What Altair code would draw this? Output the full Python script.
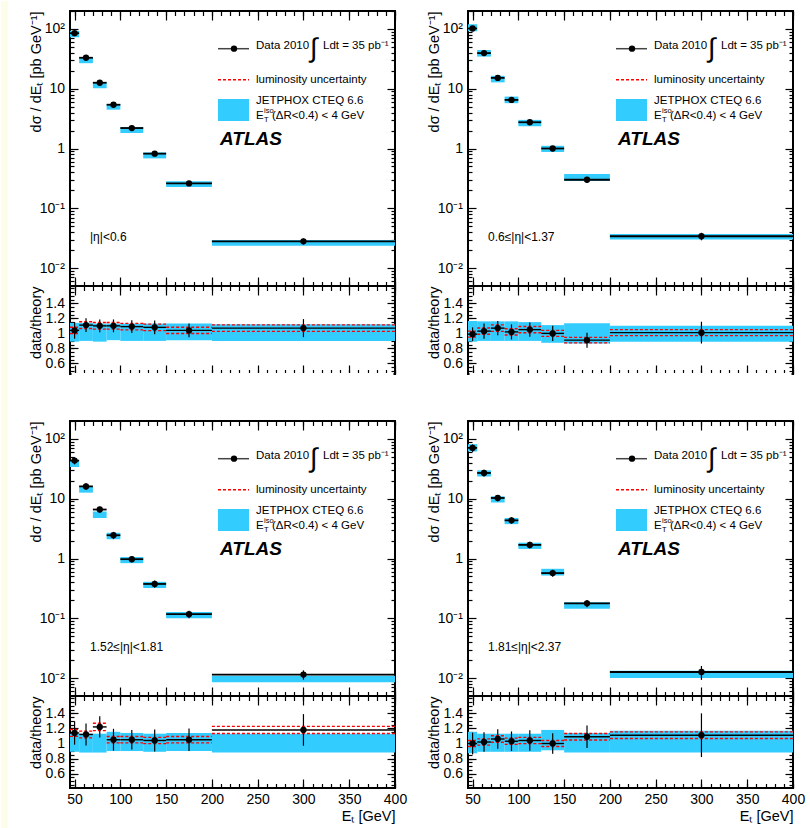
import altair as alt
import pandas as pd

# ---------------- data ----------------
BIN_LO = [45, 55, 70, 85, 100, 125, 150, 200]
BIN_HI = [55, 70, 85, 100, 125, 150, 200, 400]
BIN_CENTER = [50, 62.5, 77.5, 92.5, 112.5, 137.5, 175, 300]

REGION_LABELS = ["|η|<0.6", "0.6≤|η|<1.37", "1.52≤|η|<1.81", "1.81≤|η|<2.37"]

XSEC_ETA0 = [85, 33, 12.6, 5.4, 2.2, 0.82, 0.26, 0.028]
XSEC_ETA1 = [102, 39.5, 15.2, 6.5, 2.75, 1.0, 0.30, 0.034]
XSEC_ETA2 = [43.5, 16.1, 6.6, 2.45, 0.975, 0.375, 0.117, 0.0114]
XSEC_ETA3 = [71, 27, 10.3, 4.35, 1.69, 0.57, 0.178, 0.0126]

RATIO_ETA0 = [1.04, 1.11, 1.10, 1.10, 1.09, 1.08, 1.04, 1.07]
RATIO_ETA1 = [0.99, 1.03, 1.07, 1.02, 1.05, 1.00, 0.91, 1.01]
RATIO_ETA2 = [1.14, 1.12, 1.22, 1.05, 1.05, 1.04, 1.05, 1.18]
RATIO_ETA3 = [1.00, 1.02, 1.06, 1.03, 1.04, 1.00, 1.09, 1.11]

RATIO_ERR_ETA0 = [0.11, 0.09, 0.085, 0.085, 0.085, 0.09, 0.09, 0.12]
RATIO_ERR_ETA1 = [0.09, 0.10, 0.095, 0.10, 0.095, 0.10, 0.10, 0.145]
RATIO_ERR_ETA2 = [0.155, 0.145, 0.14, 0.145, 0.13, 0.145, 0.15, 0.21]
RATIO_ERR_ETA3 = [0.145, 0.13, 0.13, 0.13, 0.135, 0.135, 0.15, 0.29]

THEORY_LO_ETA0 = [0.89, 0.90, 0.89, 0.91, 0.90, 0.90, 0.91, 0.90]
THEORY_HI_ETA0 = [1.14, 1.14, 1.13, 1.13, 1.13, 1.13, 1.13, 1.12]
THEORY_LO_ETA1 = [0.89, 0.90, 0.90, 0.90, 0.90, 0.875, 0.865, 0.89]
THEORY_HI_ETA1 = [1.165, 1.16, 1.16, 1.16, 1.15, 1.11, 1.135, 1.10]
THEORY_LO_ETA2 = [0.89, 0.88, 0.88, 0.90, 0.90, 0.89, 0.90, 0.88]
THEORY_HI_ETA2 = [1.13, 1.13, 1.13, 1.155, 1.14, 1.13, 1.14, 1.13]
THEORY_LO_ETA3 = [0.87, 0.89, 0.89, 0.89, 0.89, 0.91, 0.88, 0.88]
THEORY_HI_ETA3 = [1.155, 1.13, 1.13, 1.13, 1.13, 1.18, 1.14, 1.17]

LUMI_UNC = 0.04

XSECS = [XSEC_ETA0, XSEC_ETA1, XSEC_ETA2, XSEC_ETA3]
RATIOS = [RATIO_ETA0, RATIO_ETA1, RATIO_ETA2, RATIO_ETA3]
RATIO_ERRS = [RATIO_ERR_ETA0, RATIO_ERR_ETA1, RATIO_ERR_ETA2, RATIO_ERR_ETA3]
TH_LOS = [THEORY_LO_ETA0, THEORY_LO_ETA1, THEORY_LO_ETA2, THEORY_LO_ETA3]
TH_HIS = [THEORY_HI_ETA0, THEORY_HI_ETA1, THEORY_HI_ETA2, THEORY_HI_ETA3]

# tick values
X_MAJOR = [50, 100, 150, 200, 250, 300, 350, 400]
X_MINOR = [50, 60, 70, 80, 90, 100, 110, 120, 130, 140, 150, 160, 170, 180, 190, 200,
           210, 220, 230, 240, 250, 260, 270, 280, 290, 300, 310, 320, 330, 340, 350,
           360, 370, 380, 390, 400]
Y_MAJOR = [0.01, 0.1, 1, 10, 100]
Y_MINOR = [m * d for d in [0.001, 0.01, 0.1, 1, 10, 100] for m in range(2, 10)]
R_MAJOR = [0.6, 0.8, 1.0, 1.2, 1.4]
R_MINOR = [round(0.4 + 0.05 * i, 2) for i in range(26)]

# ---------------- style ----------------
FONT = "Liberation Sans"
BLUE = "#33ccff"
STRIP = "#fdfde8"
W = 325
H_MAIN = 275
LOG_LABELS = ("datum.value == 100 ? '10²' : datum.value == 10 ? '10' : datum.value == 1 ? '1' : "
              "datum.value == 0.1 ? '10⁻¹' : '10⁻²'")
R_LABELS = "datum.value == 1 ? '1' : format(datum.value, '.1f')"
LUMI_STYLE = dict(color="red", strokeDash=[3, 2], strokeWidth=1.4)

ONE = pd.DataFrame({"_": [0]})


def ax(orient, values, size, labels=False, title=None, extent=0, **kw):
    d = dict(orient=orient, values=values, tickSize=size, offset=-size, domain=False,
             grid=False, labels=labels, ticks=True, tickColor="black", tickWidth=1.2,
             minExtent=extent, maxExtent=extent, title=title)
    d.update(kw)
    return alt.Axis(**d)


def txt(text, x, y, size=11.5, align="left", baseline="middle", **kw):
    return alt.Chart(ONE).mark_text(text=text, align=align, baseline=baseline, fontSize=size,
                                    font=FONT, color="black", **kw).encode(
        x=alt.value(x), y=alt.value(y))


def legend_layers(k):
    return [
        alt.Chart(ONE).mark_rule(color="#444", strokeWidth=1.5).encode(
            x=alt.value(148), x2=alt.value(179), y=alt.value(37.7)),
        alt.Chart(ONE).mark_circle(color="black", size=40, opacity=1).encode(
            x=alt.value(164), y=alt.value(37.7)),
        txt("Data 2010", 186, 34.5),
        txt("∫", 240, 46, size=27, baseline="alphabetic"),
        txt("Ldt = 35 pb⁻¹", 253, 34.5),
        alt.Chart(ONE).mark_rule(**LUMI_STYLE).encode(
            x=alt.value(148), x2=alt.value(179), y=alt.value(68.7)),
        txt("luminosity uncertainty", 186, 68.7),
        alt.Chart(ONE).mark_rect(color=BLUE).encode(
            x=alt.value(148), x2=alt.value(179), y=alt.value(88), y2=alt.value(110)),
        txt("JETPHOX CTEQ 6.6", 186, 90),
        txt("E", 186, 105),
        txt("iso", 194, 100, size=7.5),
        txt("T", 194, 109, size=7.5),
        txt("(ΔR<0.4) < 4 GeV", 202, 105),
        txt("ATLAS", 150, 128, size=19, fontWeight="bold", fontStyle="italic"),
        txt(REGION_LABELS[k], 20, 226, size=12),
    ]


def main_panel(k):
    df = pd.DataFrame({"lo": BIN_LO, "hi": BIN_HI, "c": BIN_CENTER, "xsec": XSECS[k],
                       "ratio": RATIOS[k], "rerr": RATIO_ERRS[k],
                       "blo": TH_LOS[k], "bhi": TH_HIS[k]})
    df["theory"] = df.xsec / df.ratio
    df["th_lo"] = df.theory * df.blo
    df["th_hi"] = df.theory * df.bhi
    df["e_lo"] = df.xsec * (1 - df.rerr / df.ratio)
    df["e_hi"] = df.xsec * (1 + df.rerr / df.ratio)

    xs = alt.Scale(domain=[45, 400], nice=False, zero=False)
    ys = alt.Scale(type="log", domain=[0.005, 200], nice=False)
    base = alt.Chart(df)
    rect = base.mark_rect(color=BLUE, clip=True).encode(
        x=alt.X("lo:Q", scale=xs, axis=ax("bottom", X_MAJOR, 9)),
        x2="hi:Q",
        y=alt.Y("th_lo:Q", scale=ys,
                axis=ax("left", Y_MAJOR, 8, labels=True, title="dσ / dEₜ [pb GeV⁻¹]",
                        extent=30, labelExpr=LOG_LABELS, labelPadding=5.5,
                        titlePadding=5, titleAnchor="end")),
        y2="th_hi:Q")
    hbar = base.mark_rule(color="black", strokeWidth=1.8, clip=True).encode(
        x=alt.X("lo:Q", scale=xs, axis=ax("bottom", X_MINOR, 4.5)),
        x2="hi:Q",
        y=alt.Y("xsec:Q", scale=ys, axis=ax("left", Y_MINOR, 4)))
    vbar = base.mark_rule(color="black", strokeWidth=1.2, clip=True).encode(
        x=alt.X("c:Q", scale=xs, axis=ax("top", X_MAJOR, 9)),
        y=alt.Y("e_lo:Q", scale=ys, axis=ax("right", Y_MAJOR, 8)),
        y2="e_hi:Q")
    pts = base.mark_circle(color="black", size=40, opacity=1, clip=True).encode(
        x=alt.X("c:Q", scale=xs, axis=ax("top", X_MINOR, 4.5)),
        y=alt.Y("xsec:Q", scale=ys, axis=ax("right", Y_MINOR, 4)))
    layers = [rect, hbar, vbar, pts] + legend_layers(k)
    if k == 0:
        # pale page strip at the far left of the figure
        layers.insert(0, alt.Chart(ONE).mark_rect(color=STRIP).encode(
            x=alt.value(-69), x2=alt.value(-62), y=alt.value(-10), y2=alt.value(818)))
    return alt.layer(*layers).resolve_axis(
        x="independent", y="independent").properties(width=W, height=H_MAIN)


def ratio_panel(k, bottom):
    df = pd.DataFrame({"lo": BIN_LO, "hi": BIN_HI, "c": BIN_CENTER,
                       "ratio": RATIOS[k], "rerr": RATIO_ERRS[k],
                       "blo": TH_LOS[k], "bhi": TH_HIS[k]})
    df["r_lo"] = df.ratio - df.rerr
    df["r_hi"] = df.ratio + df.rerr
    df["l_lo"] = df.ratio * (1 - LUMI_UNC)
    df["l_hi"] = df.ratio * (1 + LUMI_UNC)

    xs = alt.Scale(domain=[45, 400], nice=False, zero=False)
    if bottom:
        ys = alt.Scale(domain=[0.41, 1.63], nice=False, zero=False)
        h = 92
        xmaj = ax("bottom", X_MAJOR, 9, labels=True, title="Eₜ [GeV]", extent=25,
                  labelPadding=4, titlePadding=5, titleAnchor="end", labelFlush=False)
    else:
        ys = alt.Scale(domain=[0.46, 1.63], nice=False, zero=False)
        h = 88
        xmaj = ax("bottom", X_MAJOR, 9)
    base = alt.Chart(df)
    band = base.mark_rect(color=BLUE, clip=True).encode(
        x=alt.X("lo:Q", scale=xs, axis=xmaj), x2="hi:Q",
        y=alt.Y("blo:Q", scale=ys,
                axis=ax("left", R_MAJOR, 8, labels=True, title="data/theory", extent=30,
                        labelExpr=R_LABELS, labelPadding=5.5, titlePadding=5,
                        titleAnchor="end")),
        y2="bhi:Q")
    lumi_up = base.mark_rule(clip=True, **LUMI_STYLE).encode(
        x=alt.X("lo:Q", scale=xs, axis=ax("bottom", X_MINOR, 4.5)), x2="hi:Q",
        y=alt.Y("l_hi:Q", scale=ys, axis=ax("left", R_MINOR, 4)))
    lumi_dn = base.mark_rule(clip=True, **LUMI_STYLE).encode(
        x=alt.X("lo:Q", scale=xs, axis=ax("top", X_MAJOR, 9)), x2="hi:Q",
        y=alt.Y("l_lo:Q", scale=ys, axis=ax("right", R_MAJOR, 8)))
    hbar = base.mark_rule(color="black", strokeWidth=1.4, clip=True).encode(
        x=alt.X("lo:Q", scale=xs, axis=ax("top", X_MINOR, 4.5)), x2="hi:Q",
        y=alt.Y("ratio:Q", scale=ys, axis=ax("right", R_MINOR, 4)))
    vbar = base.mark_rule(color="black", strokeWidth=1.2, clip=True).encode(
        x=alt.X("c:Q", scale=xs, axis=None),
        y=alt.Y("r_lo:Q", scale=ys, axis=None), y2="r_hi:Q")
    pts = base.mark_circle(color="black", size=40, opacity=1, clip=True).encode(
        x=alt.X("c:Q", scale=xs, axis=None),
        y=alt.Y("ratio:Q", scale=ys, axis=None))
    layers = [band, lumi_up, lumi_dn, hbar, vbar, pts]
    if not bottom:
        # the upper figures are cut just above their lower frame line
        layers.append(alt.Chart(ONE).mark_rule(color="white", strokeWidth=3).encode(
            x=alt.value(1.5), x2=alt.value(W - 1.5), y=alt.value(h + 0.5)))
    return alt.layer(*layers).resolve_axis(
        x="independent", y="independent").properties(width=W, height=h)


def spacer():
    return alt.Chart(ONE).mark_text(text="").encode(
        x=alt.value(0), y=alt.value(0)).properties(
        width=W, height=47, view=alt.ViewBackground(stroke=None))


chart = alt.concat(
    main_panel(0), main_panel(1),
    ratio_panel(0, False), ratio_panel(1, False),
    spacer(), spacer(),
    main_panel(2), main_panel(3),
    ratio_panel(2, True), ratio_panel(3, True),
    columns=2, spacing={"row": 0, "column": 73}, bounds="flush", align="each",
).properties(
    padding={"left": 0, "top": 0, "right": 0, "bottom": 0}
).configure(background="white", font=FONT).configure_view(
    stroke="black", strokeWidth=2
).configure_axis(
    labelFont=FONT, titleFont=FONT, labelFontSize=14, titleFontSize=14.5,
    titleFontWeight="normal", labelColor="black", titleColor="black"
)

chart.save("out.html", embed_options={"renderer": "svg", "actions": False})
